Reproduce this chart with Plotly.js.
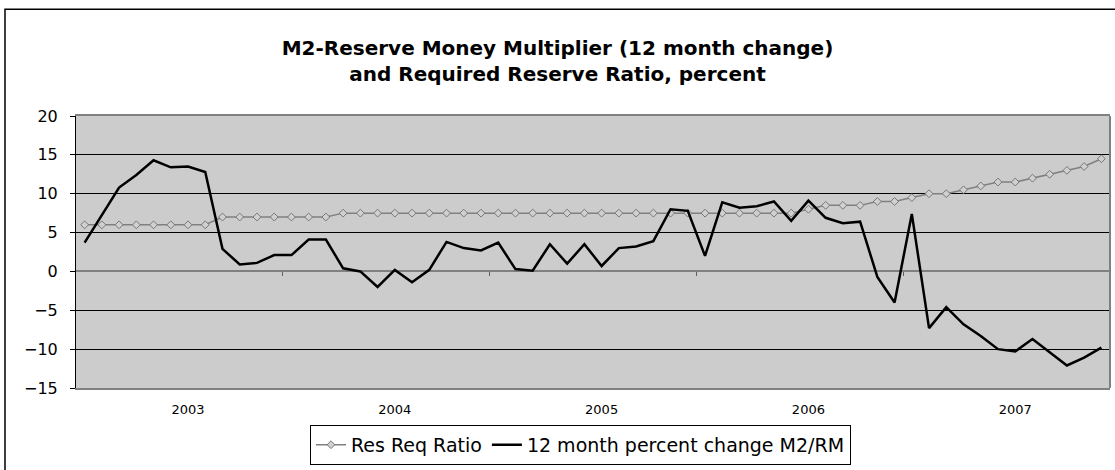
<!DOCTYPE html>
<html>
<head>
<meta charset="utf-8">
<script src="https://cdn.plot.ly/plotly-3.0.1.min.js"></script>
<style>
  html, body { margin: 0; padding: 0; background: #ffffff; }
  #chart { width: 1115px; height: 470px; }
</style>
</head>
<body>
<div id="chart"></div>
<script>
// Monthly categories, Jan 2003 - Dec 2007
const months = [
  "Jan-03","Feb-03","Mar-03","Apr-03","May-03","Jun-03","Jul-03","Aug-03","Sep-03","Oct-03","Nov-03","Dec-03",
  "Jan-04","Feb-04","Mar-04","Apr-04","May-04","Jun-04","Jul-04","Aug-04","Sep-04","Oct-04","Nov-04","Dec-04",
  "Jan-05","Feb-05","Mar-05","Apr-05","May-05","Jun-05","Jul-05","Aug-05","Sep-05","Oct-05","Nov-05","Dec-05",
  "Jan-06","Feb-06","Mar-06","Apr-06","May-06","Jun-06","Jul-06","Aug-06","Sep-06","Oct-06","Nov-06","Dec-06",
  "Jan-07","Feb-07","Mar-07","Apr-07","May-07","Jun-07","Jul-07","Aug-07","Sep-07","Oct-07","Nov-07","Dec-07"
];

// Required reserve ratio, percent
const resReqRatio = [
  6, 6, 6, 6, 6, 6, 6, 6, 7, 7, 7, 7,
  7, 7, 7, 7.5, 7.5, 7.5, 7.5, 7.5, 7.5, 7.5, 7.5, 7.5,
  7.5, 7.5, 7.5, 7.5, 7.5, 7.5, 7.5, 7.5, 7.5, 7.5, 7.5, 7.5,
  7.5, 7.5, 7.5, 7.5, 7.5, 7.5, 8, 8.5, 8.5, 8.5, 9, 9,
  9.5, 10, 10, 10.5, 11, 11.5, 11.5, 12, 12.5, 13, 13.5, 14.5
];

// 12 month percent change of M2 / reserve money multiplier
const m2rmChange = [
  3.7, 7.2, 10.8, 12.4, 14.3, 13.4, 13.5, 12.8, 2.9, 0.9, 1.1, 2.1,
  2.1, 4.1, 4.1, 0.4, 0.0, -2.0, 0.2, -1.4, 0.2, 3.8, 3.0, 2.7,
  3.7, 0.3, 0.1, 3.5, 1.0, 3.5, 0.7, 3.0, 3.2, 3.9, 8.0, 7.8,
  2.0, 8.9, 8.2, 8.4, 9.0, 6.5, 9.1, 6.9, 6.2, 6.4, -0.7, -4.0,
  7.4, -7.3, -4.6, -6.8, -8.3, -10.0, -10.3, -8.7, -10.4, -12.1, -11.1, -9.8
];

// Year labels (shown mid-year) and year boundary tick positions
const yearLabelAt = ["Jul-03","Jul-04","Jul-05","Jul-06","Jul-07"];
const yearLabels = ["2003","2004","2005","2006","2007"];
const yearBoundaries = [11.5, 23.5, 35.5, 47.5];

const seriesNames = ["Res Req Ratio", "12 month percent change M2/RM"];

const FONT = "DejaVu Sans, Verdana, sans-serif";

const traces = [
  {
    x: months, y: resReqRatio, name: seriesNames[0],
    type: "scatter", mode: "lines+markers",
    line: { color: "#808080", width: 1.5 },
    marker: { symbol: "diamond", size: 6, color: "#d0d0d0", line: { color: "#777777", width: 1 } }
  },
  {
    x: months, y: m2rmChange, name: seriesNames[1],
    type: "scatter", mode: "lines",
    line: { color: "#000000", width: 2.5 }
  },
  {
    x: [], y: [], xaxis: "x2", yaxis: "y", showlegend: false, hoverinfo: "skip",
    type: "scatter", mode: "lines"
  }
];

const layout = {
  width: 1115, height: 470,
  margin: { l: 76, r: 5, t: 116, b: 66 },
  paper_bgcolor: "#ffffff",
  plot_bgcolor: "#cccccc",
  font: { family: FONT, color: "#000000" },
  title: {
    text: "<b>M2-Reserve Money Multiplier (12 month change)<br>and Required Reserve Ratio, percent</b>",
    font: { family: FONT, size: 20, color: "#000000" },
    x: 0.5, xref: "container", xanchor: "center",
    y: 1 - 55 / 470, yref: "container", yanchor: "middle"
  },
  xaxis: {
    type: "category",
    categoryorder: "array", categoryarray: months,
    range: [-0.5, 59.5],
    tickmode: "array", tickvals: yearLabelAt, ticktext: yearLabels,
    ticks: "outside", ticklen: 8, tickcolor: "rgba(0,0,0,0)",
    tickfont: { family: FONT, size: 13, color: "#000000" },
    showgrid: false, zeroline: false,
    showline: true, linecolor: "#808080", linewidth: 2, mirror: true,
    fixedrange: true
  },
  xaxis2: {
    overlaying: "x", anchor: "free", position: 15 / 35, side: "bottom",
    range: [-0.5, 59.5], type: "linear",
    tickmode: "array", tickvals: yearBoundaries,
    ticks: "outside", ticklen: 4, tickcolor: "#606060", tickwidth: 1,
    showticklabels: false, showgrid: false, zeroline: false, showline: false
  },
  yaxis: {
    range: [-15, 20], dtick: 5, tick0: 0,
    showgrid: true, gridcolor: "#000000", gridwidth: 1,
    zeroline: true, zerolinecolor: "#808080", zerolinewidth: 2,
    showline: true, linecolor: "#000000", linewidth: 1,
    ticks: "outside", ticklen: 5, tickcolor: "#000000",
    tickfont: { family: FONT, size: 16, color: "#000000" },
    ticklabelstandoff: 9,
    fixedrange: true
  },
  showlegend: true,
  legend: {
    orientation: "h",
    x: (310 - 76) / 1034, xanchor: "left",
    y: (404 - 443) / 288, yanchor: "top",
    bgcolor: "#ffffff", bordercolor: "#000000", borderwidth: 1,
    font: { family: FONT, size: 19, color: "#000000" },
    itemwidth: 30, tracegroupgap: 0,
    automargin: false
  },
  shapes: [
    { type: "line", xref: "paper", yref: "paper", x0: 1, x1: 1, y0: 0, y1: 1,
      line: { color: "#808080", width: 2 }, layer: "above" },
    { type: "rect", xref: "paper", yref: "paper",
      x0: (5 - 76) / 1034, x1: (1118 - 76) / 1034, y0: -0.4, y1: (404 - 3) / 288,
      line: { color: "#000000", width: 1.5 }, fillcolor: "rgba(0,0,0,0)", layer: "below" }
  ]
};

Plotly.newPlot("chart", traces, layout, { displayModeBar: false, staticPlot: true });
</script>
</body>
</html>
